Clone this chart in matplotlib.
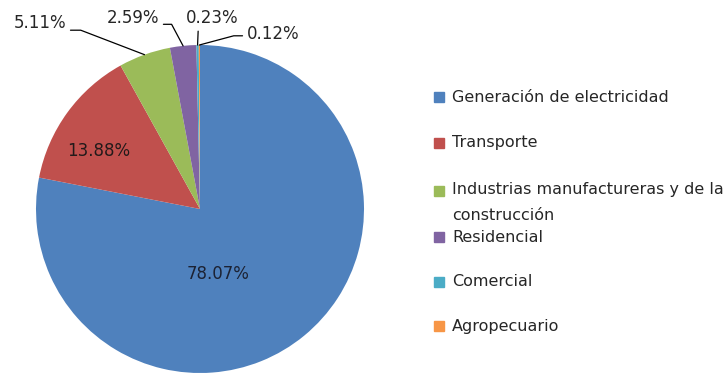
import numpy as np
import matplotlib.pyplot as plt
from matplotlib.patches import Rectangle

plt.rcParams['font.family'] = ['DejaVu Sans']

sectores = ['Generación de electricidad', 'Transporte',
            'Industrias manufactureras y de la\nconstrucción', 'Residencial',
            'Comercial', 'Agropecuario']
porcentajes = [78.07, 13.88, 5.11, 2.59, 0.23, 0.12]
colores = ['#4F81BD', '#C0504D', '#9BBB59', '#8064A2', '#4BACC6', '#F79646']

W, H = 728, 377
fig = plt.figure(figsize=(W / 100, H / 100), dpi=100)

# pie centre and radius in pixels
cx, cy, r = 200, 209, 164
ax = fig.add_axes([(cx - r) / W, 1 - (cy + r) / H, 2 * r / W, 2 * r / H])

wedges, _ = ax.pie(porcentajes, colors=colores, startangle=90, counterclock=False,
                   radius=1, wedgeprops=dict(linewidth=0))
ax.set_xlim(-1, 1)
ax.set_ylim(-1, 1)
ax.axis('off')

def px(x, y):
    return ((x - cx) / r, (cy - y) / r)

def borde(w):
    ang = np.deg2rad((w.theta1 + w.theta2) / 2)
    return (np.cos(ang), np.sin(ang))

# labels inside the two big slices
ax.text(*px(218, 274), f'{porcentajes[0]:.2f}%', ha='center', va='center',
        fontsize=12, color='#1c2233')
ax.text(*px(99, 151), f'{porcentajes[1]:.2f}%', ha='center', va='center',
        fontsize=12, color='#221a1a')

# outside labels with leader lines: (slice, text centre, start on text box, connection)
externas = [
    (2, (40, 23), (1.0, 0.1), 'angle,angleA=0,angleB=-21'),
    (3, (133, 18), (1.0, 0.15), 'angle,angleA=0,angleB=-62'),
    (4, (212, 18), (0.24, 0.0), 'arc3,rad=0'),
    (5, (273, 34), (0.0, 0.4), 'angle,angleA=0,angleB=15'),
]
for i, pos, rel, estilo in externas:
    ax.annotate(f'{porcentajes[i]:.2f}%', xy=borde(wedges[i]), xytext=px(*pos),
                ha='center', va='center', fontsize=12, color='#262626',
                arrowprops=dict(arrowstyle='-', color='black', lw=0.9, relpos=rel,
                                connectionstyle=estilo, shrinkA=1, shrinkB=0))

# legend drawn by hand to keep Excel-like spacing
filas = [97, 143, 191, 237, 282, 326]
for nombre, color, y in zip(sectores, colores, filas):
    fig.patches.append(Rectangle((434 / W, 1 - (y + 5) / H), 10 / W, 10 / H,
                                 transform=fig.transFigure, color=color))
    multilinea = '\n' in nombre
    fig.text(452 / W, 1 - (y - 9) / H if multilinea else 1 - y / H, nombre,
             ha='left', va='top' if multilinea else 'center',
             fontsize=11.5, color='#262626', linespacing=1.95)

fig.savefig('out.png', dpi=100)
